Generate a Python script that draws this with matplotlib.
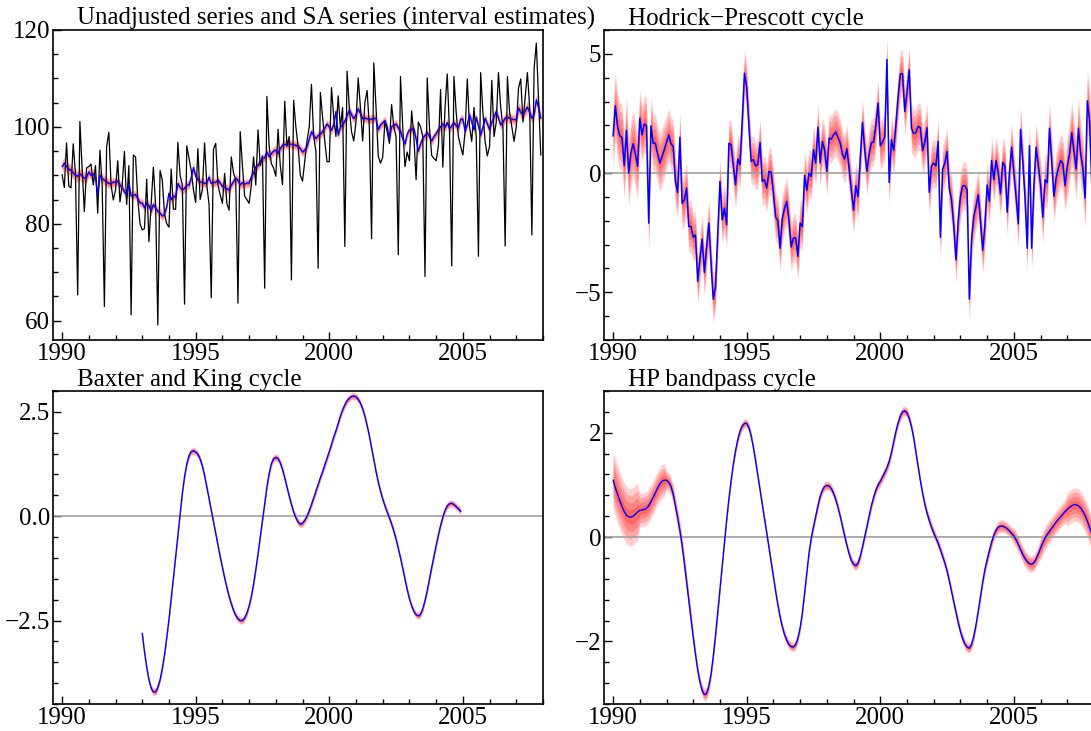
import numpy as np
import matplotlib
matplotlib.use("Agg")
import matplotlib.pyplot as plt
from matplotlib.ticker import MultipleLocator

plt.rcParams['font.family'] = ['Liberation Serif', 'DejaVu Serif']

START_YEAR = 1990

# ---------------- data (monthly, Jan 1990 - Dec 2007) ----------------
unadjusted = [
    90.1, 87.5, 96.7, 87.8, 87.4, 96.5, 90.5, 65.3, 101.1, 91.5, 82.5, 91.5,   # 1990
    91.8, 92.3, 88.0, 92.0, 82.2, 95.2, 88.0, 62.9, 95.9, 98.9, 88.0, 84.9,    # 1991
    87.0, 93.0, 84.5, 88.0, 94.9, 84.0, 92.0, 61.2, 94.2, 93.8, 85.0, 80.0,    # 1992
    78.7, 79.0, 89.2, 76.3, 84.0, 91.7, 84.0, 59.1, 91.0, 89.0, 82.0, 80.0,    # 1993
    79.3, 91.3, 83.0, 83.0, 96.8, 90.0, 88.0, 63.4, 96.1, 93.5, 91.0, 87.0,    # 1994
    84.4, 95.5, 85.0, 87.0, 96.7, 88.0, 84.0, 64.7, 95.4, 96.6, 88.0, 86.0,    # 1995
    84.2, 90.4, 84.2, 82.8, 93.8, 90.5, 89.0, 63.6, 99.0, 92.0, 85.7, 85.0,    # 1996
    84.2, 88.0, 93.8, 88.0, 99.4, 92.0, 94.0, 66.7, 106.3, 96.0, 92.4, 91.5,   # 1997
    89.8, 99.5, 92.0, 88.1, 105.3, 96.0, 98.0, 68.4, 105.5, 100.0, 96.0, 90.0, # 1998
    88.8, 93.0, 97.1, 100.0, 108.8, 98.0, 95.0, 70.8, 107.1, 102.0, 97.0, 92.8,  # 1999
    92.8, 108.1, 102.0, 98.0, 106.4, 100.0, 104.0, 75.3, 111.5, 104.0, 99.0, 97.1,  # 2000
    101.0, 110.1, 104.0, 97.1, 105.0, 107.5, 100.0, 76.9, 113.2, 104.0, 94.0, 92.5,  # 2001
    93.7, 101.2, 99.0, 96.6, 104.6, 100.0, 98.0, 73.6, 110.4, 100.0, 91.8, 94.8,   # 2002
    93.0, 103.3, 98.0, 89.1, 101.0, 100.0, 98.0, 69.1, 110.1, 100.0, 94.1, 93.5,   # 2003
    93.0, 96.0, 107.7, 91.7, 104.0, 110.9, 99.0, 71.3, 110.4, 103.0, 98.0, 96.0,   # 2004
    94.2, 99.0, 109.9, 100.0, 97.0, 104.0, 98.0, 73.3, 111.2, 103.0, 97.0, 94.0,   # 2005
    96.0, 109.6, 98.0, 101.0, 111.2, 104.0, 100.0, 75.4, 110.4, 103.0, 100.0, 97.0,  # 2006
    100.0, 108.0, 109.9, 101.0, 106.0, 111.2, 104.0, 77.7, 112.0, 117.3, 106.0, 94.2,  # 2007
]

seasonally_adjusted = [
    91.8, 92.5, 91.8, 91.3, 91.0, 90.5, 90.0, 89.8, 90.3, 89.8, 89.4, 89.6,
    90.7, 90.0, 90.3, 89.5, 86.0, 90.0, 89.3, 89.0, 88.7, 88.3, 88.3, 88.6,
    88.6, 88.8, 88.0, 87.5, 86.6, 86.0, 88.3, 85.7, 85.9, 86.0, 85.2, 84.3,
    84.3, 83.3, 84.3, 83.7, 82.6, 84.0, 83.2, 82.6, 82.2, 81.6, 82.0, 83.6,
    86.3, 85.0, 85.7, 85.5, 88.3, 87.5, 87.0, 87.3, 88.0, 88.0, 89.5, 91.6,
    89.8, 89.2, 88.6, 88.6, 88.3, 88.5, 89.6, 88.3, 88.5, 88.6, 89.0, 88.4,
    87.7, 87.5, 87.2, 87.0, 88.0, 88.7, 89.4, 89.0, 88.0, 88.5, 88.2, 88.4,
    88.4, 89.7, 90.5, 91.7, 92.0, 92.8, 93.5, 93.6, 94.8, 93.8, 94.5, 95.0,
    95.2, 94.5, 95.5, 96.2, 96.4, 96.3, 96.5, 96.4, 96.3, 96.2, 96.0, 95.5,
    94.8, 95.2, 95.9, 97.5, 99.0, 98.2, 97.6, 98.2, 98.6, 99.0, 99.8, 100.6,
    100.0, 99.3, 100.5, 103.2, 98.3, 100.0, 100.3, 101.2, 102.3, 103.5, 102.5, 101.7,
    102.5, 103.7, 102.8, 101.7, 101.8, 101.7, 101.5, 101.6, 101.8, 101.7, 99.4, 100.4,
    100.8, 101.3, 100.0, 97.4, 100.1, 100.3, 100.6, 99.8, 99.1, 97.5, 96.5, 98.5,
    99.4, 99.5, 99.6, 97.5, 95.0, 96.5, 97.7, 98.2, 98.8, 98.0, 97.1, 98.0,
    98.6, 99.4, 100.0, 100.6, 99.9, 100.9, 99.6, 100.2, 100.9, 100.2, 99.8, 101.6,
    101.6, 99.1, 100.5, 102.5, 101.0, 99.4, 102.0, 100.2, 98.3, 100.0, 101.8, 100.6,
    99.4, 101.0, 102.0, 103.2, 101.8, 100.4, 101.0, 101.8, 102.0, 101.8, 101.6, 101.5,
    101.5, 103.9, 103.0, 102.5, 103.3, 104.1, 103.0, 101.8, 102.5, 105.6, 104.0, 101.8,
]

hp_cycle = [
    1.56, 2.82, 1.95, 1.56, 1.50, 0.30, 1.80, 0.00, 0.84, 1.23, 0.80, 0.28,
    2.30, 1.60, 2.06, 2.00, -2.10, 1.98, 1.25, 1.25, 0.80, 0.42, 0.70, 0.98,
    1.30, 1.60, 1.23, 1.12, -0.35, -0.81, 1.50, -1.28, -1.12, -0.63, -2.24, -2.24,
    -2.69, -2.60, -4.54, -3.60, -2.77, -4.17, -3.10, -2.10, -3.80, -5.29, -4.76, -2.50,
    -0.35, -1.96, -1.47, -2.17, 1.25, 1.20, 0.30, -0.49, 0.59, 0.35, 2.20, 4.19,
    3.60, 2.00, 0.49, 0.56, 0.30, 0.35, 1.28, -0.35, -0.28, -0.63, 0.07, 0.03,
    -0.84, -1.85, -1.99, -3.15, -1.90, -1.47, -1.19, -2.00, -3.10, -2.72, -2.72, -3.49,
    -2.10, -2.24, -0.10, -0.72, 0.00, -0.14, 0.98, 0.42, 1.93, 0.42, 1.33, 0.98,
    0.07, 1.47, 1.42, 1.60, 1.72, 1.50, 1.26, 0.80, 0.59, 1.02, 0.20, -0.72,
    -1.56, -0.53, -0.98, 0.60, 2.12, 1.00, 0.07, 0.80, 1.28, 1.30, 2.00, 2.93,
    1.14, 1.30, 1.50, 4.76, -0.39, 1.40, 0.95, 2.00, 3.18, 4.16, 4.16, 2.58,
    3.40, 4.33, 1.88, 1.65, 1.70, 1.96, 1.90, 0.94, 1.30, 1.90, -0.81, 0.30,
    0.42, 0.30, 1.33, -2.69, 0.17, 0.42, 0.91, -0.63, -1.12, -2.20, -3.64, -2.00,
    -0.98, -0.53, -0.53, -0.70, -5.29, -2.77, -1.82, -1.40, -0.91, -2.00, -3.24, -2.20,
    -0.50, -1.19, 0.53, -0.28, 0.53, 0.00, -0.87, 0.45, 0.30, -1.64, 0.00, 1.09,
    0.00, -1.00, -2.13, 1.83, 0.50, -1.00, -3.15, 1.15, -3.15, -0.50, 1.09, 0.30,
    -0.50, -1.85, -0.28, -0.40, 1.88, 0.50, -0.98, -0.20, 0.21, 0.53, 0.40, -0.53,
    0.30, 0.80, 1.70, 0.90, 0.17, 1.88, 0.80, 0.20, -1.05, 3.03, 2.23, -0.50,
]

# Baxter-King cycle: Jan 1993 - Dec 2004
bk_start_year = 1993
bk_cycle = [
    -2.81, -3.25, -3.62, -3.92, -4.12, -4.21, -4.21, -4.10, -3.92, -3.65, -3.32, -2.91,
    -2.47, -1.98, -1.48, -0.97, -0.47, 0.05, 0.55, 0.95, 1.25, 1.45, 1.55, 1.57,
    1.54, 1.48, 1.37, 1.20, 0.97, 0.70, 0.42, 0.14, -0.14, -0.42, -0.70, -0.97,
    -1.23, -1.48, -1.71, -1.92, -2.10, -2.26, -2.38, -2.46, -2.50, -2.50, -2.44, -2.32,
    -2.15, -1.92, -1.63, -1.28, -0.90, -0.50, -0.10, 0.30, 0.70, 1.02, 1.26, 1.38,
    1.41, 1.38, 1.28, 1.12, 0.92, 0.70, 0.48, 0.28, 0.10, -0.04, -0.14, -0.19,
    -0.17, -0.10, 0.00, 0.13, 0.28, 0.44, 0.60, 0.76, 0.92, 1.07, 1.23, 1.39,
    1.55, 1.72, 1.90, 2.05, 2.22, 2.40, 2.55, 2.67, 2.77, 2.83, 2.87, 2.88,
    2.86, 2.80, 2.71, 2.57, 2.39, 2.17, 1.92, 1.64, 1.35, 1.07, 0.82, 0.60,
    0.41, 0.25, 0.10, -0.04, -0.19, -0.36, -0.55, -0.77, -1.00, -1.25, -1.50, -1.76,
    -1.98, -2.15, -2.28, -2.36, -2.39, -2.35, -2.22, -2.02, -1.78, -1.50, -1.23, -0.96,
    -0.70, -0.45, -0.22, -0.02, 0.14, 0.25, 0.30, 0.31, 0.28, 0.23, 0.18, 0.12,
]

hp_bandpass = [
    1.09, 0.95, 0.82, 0.70, 0.59, 0.49, 0.42, 0.39, 0.38, 0.40, 0.44, 0.48,
    0.51, 0.52, 0.53, 0.55, 0.60, 0.68, 0.76, 0.85, 0.94, 1.02, 1.07, 1.09,
    1.09, 1.05, 0.97, 0.82, 0.60, 0.37, 0.12, -0.16, -0.50, -0.86, -1.22, -1.57,
    -1.92, -2.25, -2.55, -2.78, -2.94, -3.02, -3.00, -2.86, -2.62, -2.28, -1.88, -1.45,
    -1.00, -0.55, -0.10, 0.33, 0.73, 1.08, 1.40, 1.66, 1.87, 2.03, 2.13, 2.18,
    2.18, 2.10, 1.94, 1.72, 1.46, 1.18, 0.90, 0.62, 0.35, 0.08, -0.20, -0.48,
    -0.76, -1.04, -1.30, -1.53, -1.72, -1.87, -1.98, -2.06, -2.10, -2.11, -2.06, -1.94,
    -1.74, -1.46, -1.08, -0.68, -0.30, -0.02, 0.20, 0.40, 0.60, 0.78, 0.90, 0.97,
    0.99, 0.98, 0.93, 0.84, 0.72, 0.57, 0.40, 0.21, 0.02, -0.16, -0.32, -0.45,
    -0.52, -0.55, -0.50, -0.37, -0.19, 0.01, 0.21, 0.41, 0.60, 0.76, 0.90, 1.00,
    1.07, 1.15, 1.24, 1.33, 1.45, 1.62, 1.82, 2.02, 2.19, 2.32, 2.40, 2.42,
    2.38, 2.28, 2.12, 1.90, 1.63, 1.35, 1.08, 0.84, 0.63, 0.46, 0.32, 0.19,
    0.08, -0.02, -0.12, -0.24, -0.37, -0.50, -0.65, -0.84, -1.04, -1.25, -1.45, -1.64,
    -1.81, -1.95, -2.05, -2.11, -2.13, -2.06, -1.90, -1.68, -1.42, -1.14, -0.86, -0.62,
    -0.43, -0.26, -0.10, 0.04, 0.13, 0.19, 0.21, 0.21, 0.19, 0.16, 0.12, 0.07,
    0.02, -0.05, -0.14, -0.24, -0.33, -0.41, -0.47, -0.51, -0.52, -0.49, -0.42, -0.32,
    -0.21, -0.11, -0.02, 0.05, 0.11, 0.17, 0.23, 0.29, 0.34, 0.39, 0.44, 0.49,
    0.53, 0.57, 0.60, 0.62, 0.62, 0.60, 0.56, 0.49, 0.41, 0.31, 0.19, 0.06,
]

# interval half-widths (per year, 1990..2007)
sa_band_years = [1.3, 1.1, 1.0, 1.0, 1.0, 1.0, 1.0, 1.0, 1.0, 1.0, 1.0, 1.0, 1.0, 1.0, 1.0, 1.0, 1.1, 1.3]
hp_band_years = [1.4, 1.2, 1.1, 1.0, 1.0, 1.0, 1.0, 1.0, 1.0, 1.0, 1.0, 1.0, 1.0, 1.0, 1.0, 1.0, 1.1, 1.3]
bp_band_years = [0.55, 0.32, 0.18, 0.12, 0.09, 0.09, 0.09, 0.09, 0.09, 0.09, 0.1, 0.1, 0.1, 0.1, 0.12, 0.16, 0.22, 0.32]
bk_band = 0.09

titles = ["Unadjusted series and SA series (interval estimates)",
          "Hodrick\u2212Prescott cycle",
          "Baxter and King cycle",
          "HP bandpass cycle"]
year_ticks = [1990, 1995, 2000, 2005]

# ---------------- plotting ----------------
W, H = 1091, 731
fig = plt.figure(figsize=(W / 100, H / 100), dpi=100)

def px_axes(left, top, right, bottom):
    return fig.add_axes([left / W, 1 - bottom / H, (right - left) / W, (bottom - top) / H])

ax1 = px_axes(53, 30, 543, 340)
ax2 = px_axes(604, 30, 1094, 340)
ax3 = px_axes(53, 391, 543, 704)
ax4 = px_axes(604, 391, 1094, 704)

t = START_YEAR + np.arange(len(unadjusted)) / 12.0
t_bk = bk_start_year + np.arange(len(bk_cycle)) / 12.0

def band_from_years(vals):
    return np.repeat(np.asarray(vals, float), 12)

def fan(ax, x, y, hw):
    y = np.asarray(y, float)
    hw = np.asarray(hw, float)
    for k, a in [(1.0, 0.22), (0.75, 0.22), (0.5, 0.25), (0.25, 0.3)]:
        ax.fill_between(x, y - k * hw, y + k * hw, color='#ff2020', alpha=a, lw=0)

LABEL_FS = 18

def set_title(ax, title, dx_px=24):
    off = matplotlib.transforms.offset_copy(ax.transAxes, fig=fig, x=dx_px, y=0, units='dots')
    ax.text(0, 1, title, transform=off, fontsize=LABEL_FS, ha='left', va='bottom')

def style(ax, ylim, ymajor, yminor, title, fmt):
    ax.set_xlim(1989.66, 2008.0)
    ax.set_ylim(*ylim)
    ax.xaxis.set_major_locator(plt.FixedLocator(year_ticks))
    ax.xaxis.set_minor_locator(MultipleLocator(1))
    ax.yaxis.set_major_locator(MultipleLocator(ymajor))
    ax.yaxis.set_minor_locator(MultipleLocator(yminor))
    ax.yaxis.set_major_formatter(plt.FuncFormatter(fmt))
    ax.tick_params(which='both', direction='in', top=False, right=False,
                   labelsize=LABEL_FS, width=1.0, colors='black')
    ax.tick_params(which='major', length=6)
    ax.tick_params(which='minor', length=3.5)
    ax.tick_params(axis='x', pad=2)
    ax.tick_params(axis='y', pad=2)
    for s in ax.spines.values():
        s.set_linewidth(1.2)
    set_title(ax, title)

minus = lambda v, p: ("%g" % v).replace('-', '\u2212')
minus1 = lambda v, p: ("%.1f" % v).replace('-', '\u2212')

# Panel 1
fan(ax1, t, seasonally_adjusted, band_from_years(sa_band_years))
ax1.plot(t, unadjusted, color='black', lw=0.9)
ax1.plot(t, seasonally_adjusted, color='#0000ff', lw=1.0)
style(ax1, (56, 120), 20, 5, titles[0], minus)

# Panel 2
ax2.axhline(0, color='#a0a0a0', lw=1.2)
fan(ax2, t, hp_cycle, band_from_years(hp_band_years))
ax2.plot(t, hp_cycle, color='#0000ff', lw=1.1)
style(ax2, (-7, 6), 5, 1, titles[1], minus)

# Panel 3
ax3.axhline(0, color='#a0a0a0', lw=1.2)
fan(ax3, t_bk, bk_cycle, np.full(len(bk_cycle), bk_band))
ax3.plot(t_bk, bk_cycle, color='#0000ff', lw=1.0)
style(ax3, (-4.5, 3.0), 2.5, 0.5, titles[2], minus1)

# Panel 4
ax4.axhline(0, color='#a0a0a0', lw=1.2)
fan(ax4, t, hp_bandpass, band_from_years(bp_band_years))
ax4.plot(t, hp_bandpass, color='#0000ff', lw=1.0)
style(ax4, (-3.2, 2.8), 2, 0.4, titles[3], minus)

fig.savefig("out.png", dpi=100)
